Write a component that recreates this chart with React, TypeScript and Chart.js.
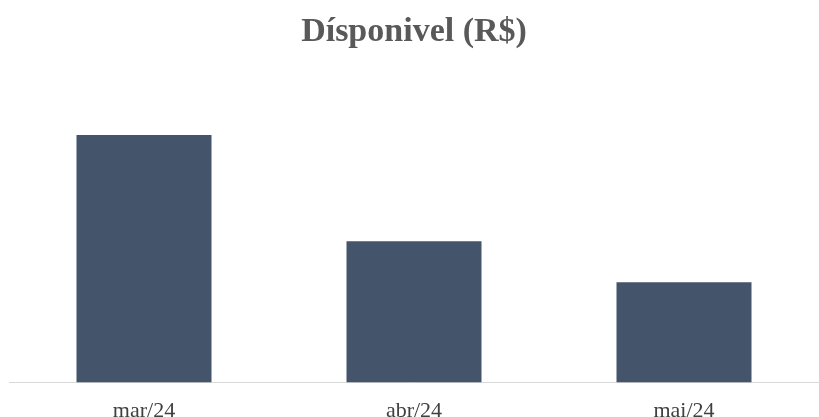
import React, { useEffect, useRef } from "react";
import { Chart, registerables } from "chart.js";

Chart.register(...registerables);

const categories = ["mar/24", "abr/24", "mai/24"];
const values = [247, 141, 100];
const yMax = 301;
const titleText = "Dísponivel (R$)";

export default function App() {
  const ref = useRef<HTMLCanvasElement | null>(null);
  useEffect(() => {
    document.body.style.margin = "0";
    const ctx = ref.current!;
    const chart = new Chart(ctx, {
      type: "bar",
      data: {
        labels: categories,
        datasets: [
          {
            data: values,
            backgroundColor: "#44546A",
            categoryPercentage: 1,
            barPercentage: 0.5,
          },
        ],
      },
      options: {
        animation: false,
        responsive: false,
        devicePixelRatio: 1,
        layout: { padding: { left: 9, right: 0, top: 0, bottom: -22 } },
        plugins: {
          legend: { display: false },
          tooltip: { enabled: false },
          title: {
            display: true,
            text: titleText,
            color: "#595959",
            font: { family: "Liberation Serif", size: 34, weight: "bold" },
            padding: { top: 12, bottom: 28 },
          },
        },
        scales: {
          x: {
            grid: { display: false, drawTicks: false },
            border: { display: true, color: "#D9D9D9", width: 1 },
            ticks: {
              color: "#404040",
              font: { family: "Liberation Serif", size: 22 },
              padding: 15,
            },
          },
          y: {
            display: false,
            min: 0,
            max: yMax,
          },
        },
      },
    });
    return () => chart.destroy();
  }, []);
  return <canvas ref={ref} width={819} height={417} style={{ display: "block" }} />;
}
